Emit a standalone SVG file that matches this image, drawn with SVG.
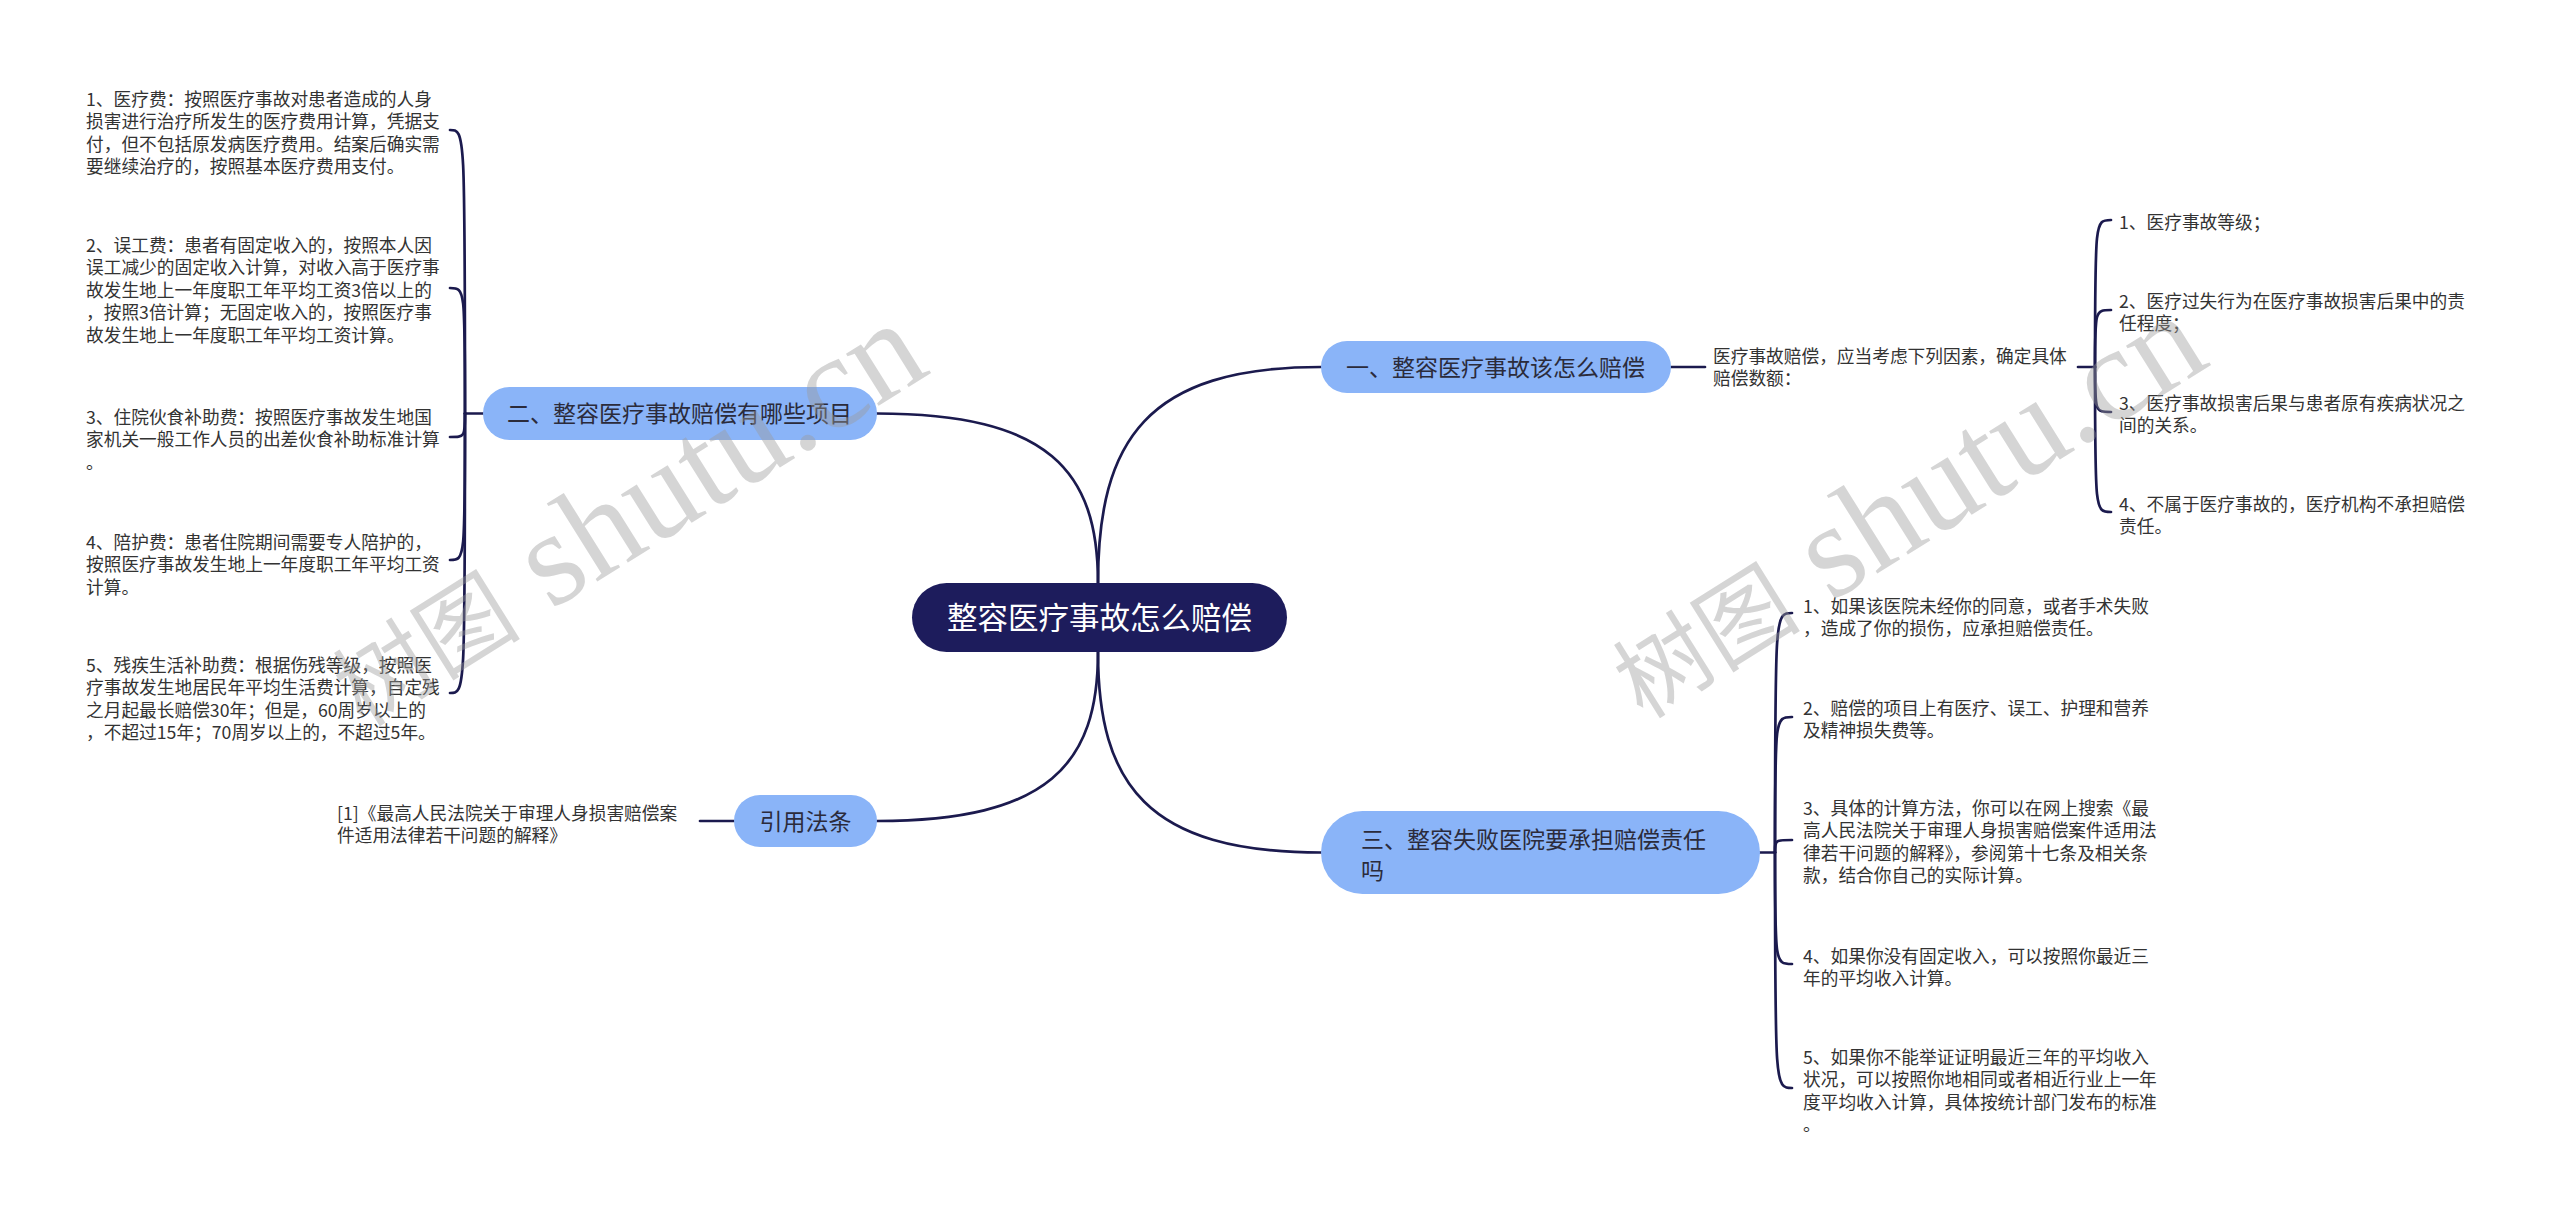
<svg xmlns="http://www.w3.org/2000/svg" width="2560" height="1221" viewBox="0 0 2560 1221">
<style>
.ln{fill:none;stroke:#1b1a4e;stroke-width:2.7;stroke-linecap:round}
.t{font-family:"Noto Sans CJK SC","Noto Sans",sans-serif;font-size:17.7px;fill:#333333}
.bn{fill:#8ab4f8}
.bt{font-family:"Noto Sans CJK SC","Noto Sans",sans-serif;font-size:23px;fill:#2b2b3b}
.wm{fill:#9a9a9a;fill-opacity:0.42}
</style>
<rect x="0" y="0" width="2560" height="1221" fill="#ffffff"/>
<g id="connectors">
<path class="ln" d="M1098 583 C1098 471 1049 413.5 877 413.5"/>
<path class="ln" d="M1098 583 C1098 440 1147 367 1321 367"/>
<path class="ln" d="M1098 652 C1098 784 1147 852.5 1321 852.5"/>
<path class="ln" d="M1098 652 C1098 764 1049 821 877 821"/>
<path class="ln" d="M483 413.5 L465 413.5"/>
<path class="ln" d="M465 413.5 C465 130 465 130 450 130"/>
<path class="ln" d="M465 413.5 C465 288 465 288 450 288"/>
<path class="ln" d="M465 413.5 C465 437 465 437 450 437"/>
<path class="ln" d="M465 413.5 C465 560 465 560 450 560"/>
<path class="ln" d="M465 413.5 C465 693 465 693 450 693"/>
<path class="ln" d="M734 821 L700 821"/>
<path class="ln" d="M1671 367 L1705 367"/>
<path class="ln" d="M2078 367 L2095 367"/>
<path class="ln" d="M2095 367 C2095 220 2095 220 2111 220"/>
<path class="ln" d="M2095 367 C2095 310 2095 310 2111 310"/>
<path class="ln" d="M2095 367 C2095 412 2095 412 2111 412"/>
<path class="ln" d="M2095 367 C2095 512 2095 512 2111 512"/>
<path class="ln" d="M1760 852.5 L1775 852.5"/>
<path class="ln" d="M1775 852.5 C1775 613 1775 613 1792 613"/>
<path class="ln" d="M1775 852.5 C1775 717 1775 717 1792 717"/>
<path class="ln" d="M1775 852.5 C1775 840 1775 840 1792 840"/>
<path class="ln" d="M1775 852.5 C1775 964 1775 964 1792 964"/>
<path class="ln" d="M1775 852.5 C1775 1088 1775 1088 1792 1088"/>
</g>
<g id="root">
<rect x="912" y="583" width="375" height="69" rx="34.5" fill="#1d1c5c"/>
<text x="1099.5" y="629" text-anchor="middle" font-family="Noto Sans CJK SC, sans-serif" font-size="30.5" fill="#ffffff">整容医疗事故怎么赔偿</text>
</g>
<g id="b1">
<rect class="bn" x="1321" y="341" width="350" height="52" rx="26"/>
<text class="bt" x="1346" y="375.7">一、整容医疗事故该怎么赔偿</text>
</g>
<g id="b2">
<rect class="bn" x="483" y="387" width="394" height="53" rx="26.5"/>
<text class="bt" x="507" y="422">二、整容医疗事故赔偿有哪些项目</text>
</g>
<g id="b3">
<rect class="bn" x="1321" y="811" width="439" height="83" rx="41.5"/>
<text class="bt" x="1361" y="848"><tspan x="1361">三、整容失败医院要承担赔偿责任</tspan><tspan x="1361" dy="30.7">吗</tspan></text>
</g>
<g id="b4">
<rect class="bn" x="734" y="795" width="143" height="52" rx="26"/>
<text class="bt" x="805.5" y="829.7" text-anchor="middle">引用法条</text>
</g>
<g id="l1">
<text class="t" x="86" y="105.7"><tspan x="86">1、医疗费：按照医疗事故对患者造成的人身</tspan><tspan x="86" dy="22.5">损害进行治疗所发生的医疗费用计算，凭据支</tspan><tspan x="86" dy="22.5">付，但不包括原发病医疗费用。结案后确实需</tspan><tspan x="86" dy="22.5">要继续治疗的，按照基本医疗费用支付。</tspan></text>
</g>
<g id="l2">
<text class="t" x="86" y="251.7"><tspan x="86">2、误工费：患者有固定收入的，按照本人因</tspan><tspan x="86" dy="22.5">误工减少的固定收入计算，对收入高于医疗事</tspan><tspan x="86" dy="22.5">故发生地上一年度职工年平均工资3倍以上的</tspan><tspan x="86" dy="22.5">，按照3倍计算；无固定收入的，按照医疗事</tspan><tspan x="86" dy="22.5">故发生地上一年度职工年平均工资计算。</tspan></text>
</g>
<g id="l3">
<text class="t" x="86" y="423.7"><tspan x="86">3、住院伙食补助费：按照医疗事故发生地国</tspan><tspan x="86" dy="22.5">家机关一般工作人员的出差伙食补助标准计算</tspan><tspan x="86" dy="22.5">。</tspan></text>
</g>
<g id="l4">
<text class="t" x="86" y="548.7"><tspan x="86">4、陪护费：患者住院期间需要专人陪护的，</tspan><tspan x="86" dy="22.5">按照医疗事故发生地上一年度职工年平均工资</tspan><tspan x="86" dy="22.5">计算。</tspan></text>
</g>
<g id="l5">
<text class="t" x="86" y="671.7"><tspan x="86">5、残疾生活补助费：根据伤残等级，按照医</tspan><tspan x="86" dy="22.5">疗事故发生地居民年平均生活费计算，自定残</tspan><tspan x="86" dy="22.5">之月起最长赔偿30年；但是，60周岁以上的</tspan><tspan x="86" dy="22.5">，不超过15年；70周岁以上的，不超过5年。</tspan></text>
</g>
<g id="ref1">
<text class="t" x="337" y="819.7"><tspan x="337">[1]《最高人民法院关于审理人身损害赔偿案</tspan><tspan x="337" dy="22.5">件适用法律若干问题的解释》</tspan></text>
</g>
<g id="r0">
<text class="t" x="1713" y="362.7"><tspan x="1713">医疗事故赔偿，应当考虑下列因素，确定具体</tspan><tspan x="1713" dy="22.5">赔偿数额：</tspan></text>
</g>
<g id="r1">
<text class="t" x="2119" y="228.7">1、医疗事故等级；</text>
</g>
<g id="r2">
<text class="t" x="2119" y="307.7"><tspan x="2119">2、医疗过失行为在医疗事故损害后果中的责</tspan><tspan x="2119" dy="22.5">任程度；</tspan></text>
</g>
<g id="r3">
<text class="t" x="2119" y="409.7"><tspan x="2119">3、医疗事故损害后果与患者原有疾病状况之</tspan><tspan x="2119" dy="22.5">间的关系。</tspan></text>
</g>
<g id="r4">
<text class="t" x="2119" y="510.7"><tspan x="2119">4、不属于医疗事故的，医疗机构不承担赔偿</tspan><tspan x="2119" dy="22.5">责任。</tspan></text>
</g>
<g id="s1">
<text class="t" x="1803" y="612.7"><tspan x="1803">1、如果该医院未经你的同意，或者手术失败</tspan><tspan x="1803" dy="22.5">，造成了你的损伤，应承担赔偿责任。</tspan></text>
</g>
<g id="s2">
<text class="t" x="1803" y="714.7"><tspan x="1803">2、赔偿的项目上有医疗、误工、护理和营养</tspan><tspan x="1803" dy="22.5">及精神损失费等。</tspan></text>
</g>
<g id="s3">
<text class="t" x="1803" y="814.7"><tspan x="1803">3、具体的计算方法，你可以在网上搜索《最</tspan><tspan x="1803" dy="22.5">高人民法院关于审理人身损害赔偿案件适用法</tspan><tspan x="1803" dy="22.5">律若干问题的解释》，参阅第十七条及相关条</tspan><tspan x="1803" dy="22.5">款，结合你自己的实际计算。</tspan></text>
</g>
<g id="s4">
<text class="t" x="1803" y="962.7"><tspan x="1803">4、如果你没有固定收入，可以按照你最近三</tspan><tspan x="1803" dy="22.5">年的平均收入计算。</tspan></text>
</g>
<g id="s5">
<text class="t" x="1803" y="1063.7"><tspan x="1803">5、如果你不能举证证明最近三年的平均收入</tspan><tspan x="1803" dy="22.5">状况，可以按照你地相同或者相近行业上一年</tspan><tspan x="1803" dy="22.5">度平均收入计算，具体按统计部门发布的标准</tspan><tspan x="1803" dy="22.5">。</tspan></text>
</g>
<g id="watermarks">
<text class="wm" transform="translate(363,728) rotate(-32)"><tspan font-family="Noto Sans CJK SC, sans-serif" font-size="94">树图</tspan><tspan font-family="Liberation Serif, serif" font-size="134"> shutu.cn</tspan></text>
<text class="wm" transform="translate(1643,720) rotate(-32)"><tspan font-family="Noto Sans CJK SC, sans-serif" font-size="94">树图</tspan><tspan font-family="Liberation Serif, serif" font-size="134"> shutu.cn</tspan></text>
</g>
</svg>
